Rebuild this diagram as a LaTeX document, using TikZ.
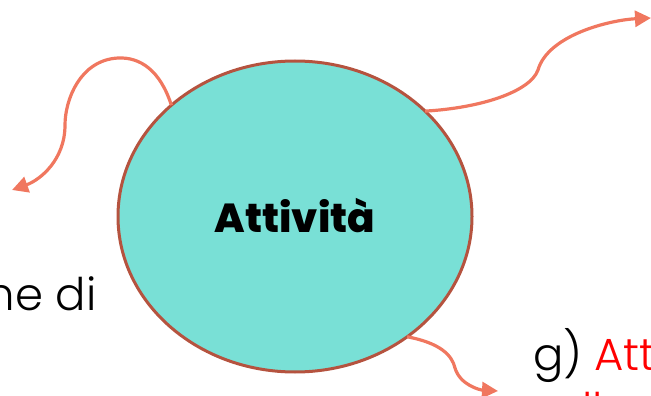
\documentclass[tikz,border=0pt]{standalone}
\usepackage{fontspec}
\setmainfont{Poppins}[UprightFont={* Light},BoldFont={* ExtraBold}]
\usetikzlibrary{shapes.geometric,arrows.meta}
\definecolor{arrowc}{HTML}{F0775F}
\definecolor{fillc}{HTML}{79E0D6}
\definecolor{borderc}{HTML}{B5533F}
\definecolor{redc}{HTML}{FF0000}
\tikzset{
  conn/.style={draw=arrowc, line width=3.2pt, -{Triangle[length=16pt,width=16pt]}},
  bubble/.style={ellipse, draw=borderc, fill=fillc, line width=3pt, minimum width=354pt, minimum height=311pt, inner sep=0pt, outer sep=0pt},
  bodytext/.style={inner sep=0pt, outer sep=0pt, font=\fontsize{45}{56}\selectfont}
}
\begin{document}
\begin{tikzpicture}[x=1pt,y=-1pt]
\useasboundingbox (0,0) rectangle (651,396);
\clip (0,0) rectangle (651,396);
\node[bubble] (e) at (295,216.5) {};
\node[anchor=base, inner sep=0pt, font=\fontsize{40.5}{48}\selectfont\bfseries] (t) at (295,232) {Attività};
\node[bodytext, anchor=base west] (l) at (-13,310) {ne di};
\node[bodytext, anchor=base west] (r) at (533,370) {g) \textcolor{redc}{Att}};
\node[bodytext, anchor=base west, text=redc] (r2) at (582,425) {ll};
\coordinate (a1) at (e.138);
\coordinate (a2) at (e.39);
\coordinate (a3) at (e.-47.5);
\coordinate (b1) at (12,190);
\coordinate (b2) at (651,18);
\coordinate (b3) at (498,391);
\draw[conn] (a1) .. controls (160,70) and (140,57) .. (118,58) .. controls (80,60) and (65,100) .. (65,125) .. controls (65,160) and (40,180) .. (b1);
\draw[conn] (a2) .. controls (480,108) and (530,92) .. (538,70) .. controls (548,35) and (610,20) .. (b2);
\draw[conn] (a3) .. controls (440,343) and (452,355) .. (455,368) .. controls (460,385) and (480,390) .. (b3);
\end{tikzpicture}
\end{document}
